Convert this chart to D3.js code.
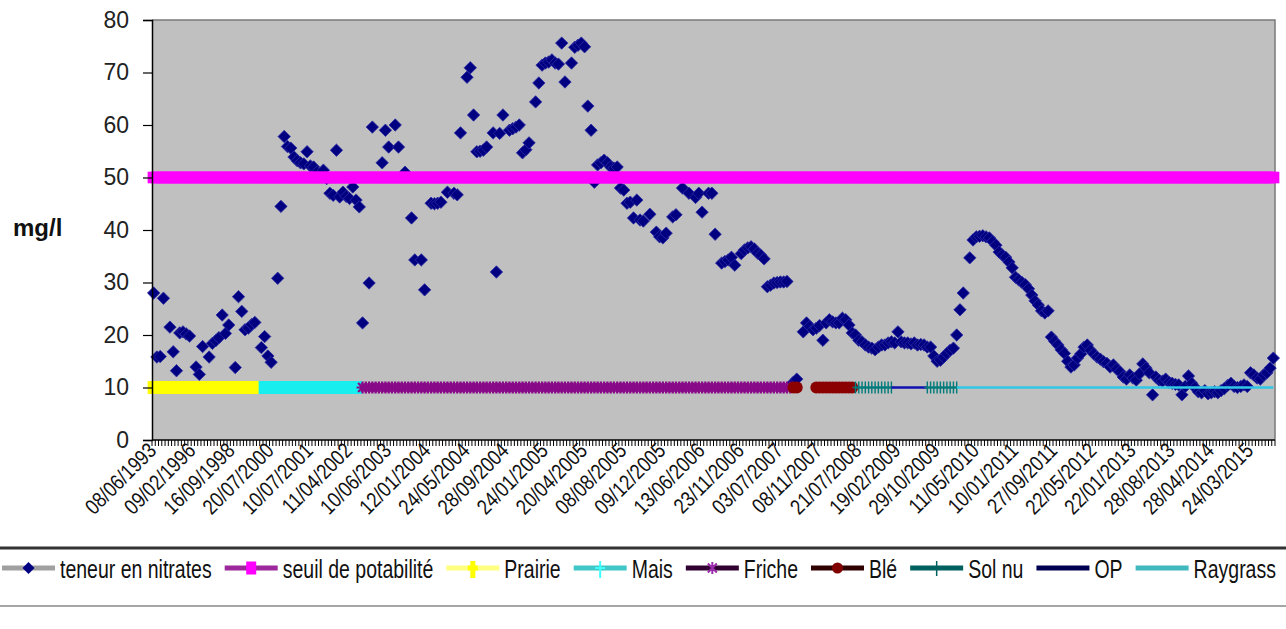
<!DOCTYPE html>
<html>
<head>
<meta charset="utf-8">
<script src="https://cdn.jsdelivr.net/npm/d3@7"></script>
<style>
  body { margin: 0; background: #ffffff; }
  svg { display: block; }
</style>
</head>
<body>
<svg id="chart" width="1286" height="629"></svg>
<script>
// ---- Data ---------------------------------------------------------------

// Sampling-date labels shown on the category axis (one every 12 samples)
const tickLabels = [
  "08/06/1993", "09/02/1996", "16/09/1998", "20/07/2000", "10/07/2001",
  "11/04/2002", "10/06/2003", "12/01/2004", "24/05/2004", "28/09/2004",
  "24/01/2005", "20/04/2005", "08/08/2005", "09/12/2005", "13/06/2006",
  "23/11/2006", "03/07/2007", "08/11/2007", "21/07/2008", "19/02/2009",
  "29/10/2009", "11/05/2010", "10/01/2011", "27/09/2011", "22/05/2012",
  "22/01/2013", "28/08/2013", "28/04/2014", "24/03/2015"
];
const labelStep = 12;

// Nitrate content (mg/l), one value per sampling date (null = no measurement)
const nitrate = [
  28.0, 15.8, 15.9, 27.0, null, 21.5, 16.8, 13.2, 20.4, 20.6,
  20.2, 19.8, null, 13.9, 12.5, 17.8, null, 15.8, 18.4, 18.9,
  19.5, 23.8, 20.3, 21.9, null, 13.8, 27.3, 24.5, 21.0, 21.3,
  22.0, 22.4, null, 17.6, 19.7, 16.0, 14.8, null, 30.8, 44.5,
  57.8, 55.9, 55.6, 53.9, 53.2, 52.8, 52.6, 54.9, 52.2, 52.0,
  51.0, 50.2, 51.4, 49.8, 47.0, 46.6, 55.2, 46.3, 47.2, 46.4,
  46.0, 48.2, 45.7, 44.4, 22.3, null, 29.9, 59.6, null, null,
  52.8, 59.0, 55.8, null, 60.0, 55.8, null, 51.0, null, 42.3,
  34.3, null, 34.3, 28.6, null, 45.1, 45.0, 45.1, 45.3, null,
  47.2, null, 47.0, 46.7, 58.5, null, 69.1, 70.9, 61.9, 54.9,
  55.0, 55.2, 55.8, null, 58.5, 32.0, 58.4, 61.9, null, 59.0,
  59.3, 59.6, 60.0, 54.7, 55.3, 56.6, null, 64.4, 68.0, 71.4,
  71.8, 72.0, 72.4, 71.8, 71.6, 75.6, 68.2, null, 71.8, 74.8,
  75.2, 75.6, 74.9, 63.6, 59.0, 49.1, 52.4, 52.8, 53.3, 52.8,
  52.0, 51.8, 52.0, 48.0, 47.6, 45.1, 45.3, 42.3, 45.7, 41.9,
  41.7, null, 43.0, null, 39.6, 38.7, 38.5, 39.4, null, 42.5,
  42.9, null, 48.0, null, 47.0, null, 46.2, 47.0, 43.4, null,
  47.0, 47.0, 39.2, null, 33.7, 34.0, 34.3, 34.8, 33.3, null,
  35.5, 36.2, 36.6, 36.8, 36.4, 35.6, 35.2, 34.5, 29.2, 29.5,
  29.9, 30.0, 30.1, 30.1, 30.2, null, 11.0, 11.6, null, 20.6,
  22.3, 21.6, 21.0, 21.3, 21.8, 19.0, 22.3, 22.9, 22.5, 22.3,
  22.3, 23.2, 22.9, 21.9, 20.4, 20.0, 19.0, 18.7, 18.1, 17.7,
  17.5, 17.2, 17.7, 18.1, 18.1, 18.5, 18.7, 18.5, 20.6, 18.7,
  18.5, 18.5, 18.3, 18.5, 18.1, 18.2, 18.1, 17.7, 17.7, 16.0,
  15.0, 15.2, 15.8, 16.5, 17.1, 17.5, 20.0, 24.8, 28.0, null,
  34.7, 38.1, 38.7, 38.8, 38.9, 38.7, 38.5, 37.8, 37.1, 35.8,
  35.2, 34.8, 33.9, 32.8, 31.0, 30.5, 30.0, 29.6, 28.8, 27.6,
  26.5, 25.7, 24.6, 24.2, 24.6, 19.6, 18.8, 18.1, 17.2, 16.5,
  15.0, 13.9, 14.3, 15.6, 16.4, 17.7, 18.1, 17.1, 16.4, 15.8,
  15.4, 14.9, 14.6, 13.9, 14.3, 13.5, 13.0, 12.0, 11.6, 12.4,
  11.8, 11.4, 12.6, 14.5, 13.7, 12.8, 8.6, 12.0, 11.4, 11.2,
  11.6, 11.0, 10.8, 10.6, 10.5, 8.6, 10.2, 12.2, 10.8, 10.0,
  9.2, 9.0, 9.4, 8.8, 9.0, 9.2, 9.0, 9.4, 9.8, 10.4,
  10.8, 10.2, 10.0, 10.2, 10.5, 10.2, 12.8, 12.4, 11.8, 11.6,
  12.4, 12.8, 13.7, 15.6
];

// Drinking-water threshold (mg/l)
const seuil = 50;

// Land use over the plot, drawn as a marker line at a fixed level
const cropLevel = 10;
const cropFrom  = [0,  34, 64,  196, 203, 215, 226, 237, 246];
const cropTo    = [33, 62, 195, 197, 214, 226, 237, 246, 343];
const cropOf    = ["Prairie", "Mais", "Friche", "Blé", "Blé", "Sol nu", "OP", "Sol nu", "Raygrass"];

const legendLabels = ["teneur en nitrates", "seuil de potabilité", "Prairie", "Mais",
                      "Friche", "Blé", "Sol nu", "OP", "Raygrass"];

// ---- Layout -------------------------------------------------------------
const svg = d3.select("#chart");
const plot = { left: 152, right: 1275, top: 20, bottom: 440 };
const N = nitrate.length;

const x = d3.scaleBand()
  .domain(d3.range(N))
  .range([plot.left, plot.right])
  .paddingInner(0).paddingOuter(0);
const cx = i => x(i) + x.bandwidth() / 2;

const y = d3.scaleLinear().domain([0, 80]).range([plot.bottom, plot.top]);

const FONT = "'Liberation Sans', Arial, sans-serif";

// plot background
svg.append("rect")
  .attr("x", plot.left).attr("y", plot.top)
  .attr("width", plot.right - plot.left).attr("height", plot.bottom - plot.top)
  .attr("fill", "#c0c0c0");
// top and right frame
svg.append("path")
  .attr("d", `M${plot.left},${plot.top}H${plot.right}V${plot.bottom}`)
  .attr("fill", "none").attr("stroke", "#7a7a7a").attr("stroke-width", 1.5);

// ---- Series -------------------------------------------------------------
const diamondPath = r => `M0,${-r}L${r},0L0,${r}L${-r},0Z`;

// nitrate measurements
svg.append("g").selectAll("path")
  .data(nitrate.map((v, i) => ({ i, v })).filter(d => d.v != null))
  .join("path")
  .attr("d", diamondPath(6.2))
  .attr("transform", d => `translate(${cx(d.i)},${y(d.v)})`)
  .attr("fill", "#000080")
  .attr("stroke", "#2c2ca6").attr("stroke-width", 0.8);

// threshold: magenta line with square markers at every date
const gSeuil = svg.append("g");
gSeuil.append("line")
  .attr("x1", cx(0)).attr("x2", cx(N - 1))
  .attr("y1", y(seuil)).attr("y2", y(seuil))
  .attr("stroke", "#ff00ff").attr("stroke-width", 4);
gSeuil.selectAll("rect").data(d3.range(N)).join("rect")
  .attr("x", i => cx(i) - 6).attr("y", y(seuil) - 5.8)
  .attr("width", 12).attr("height", 11.6)
  .attr("fill", "#ff00ff");

// land-use periods
const cropStyle = {
  "Prairie":  { line: "#ffff00", width: 4, marker: "rect", color: "#ffff00" },
  "Mais":     { line: "#00ffff", width: 4, marker: "rect", color: "#19eeee" },
  "Friche":   { line: "#800080", width: 4, marker: "asterisk", color: "#880a88" },
  "Blé":      { line: "#800000", width: 4, marker: "circle", color: "#8b0000" },
  "Sol nu":   { line: "#008080", width: 2, marker: "plus", color: "#007a7a" },
  "OP":       { line: "#1010b0", width: 2.5, marker: null },
  "Raygrass": { line: "#30c8e6", width: 2.5, marker: null }
};

const lineGen = d3.line().x(d => cx(d)).y(() => y(cropLevel));

cropFrom.forEach((from, k) => {
  const name = cropOf[k];
  const st = cropStyle[name];
  const idx = d3.range(from, cropTo[k] + 1);
  const g = svg.append("g").attr("class", "crop");
  g.append("path").datum(idx)
    .attr("d", lineGen)
    .attr("fill", "none").attr("stroke", st.line).attr("stroke-width", st.width);
  const yy = y(cropLevel);
  if (st.marker === "rect") {
    g.selectAll("rect").data(idx).join("rect")
      .attr("x", i => cx(i) - 6).attr("y", yy - 6.5)
      .attr("width", 12).attr("height", 13).attr("fill", st.color);
  } else if (st.marker === "circle") {
    g.selectAll("circle").data(idx).join("circle")
      .attr("cx", i => cx(i)).attr("cy", yy).attr("r", 6)
      .attr("fill", st.color);
  } else if (st.marker === "asterisk") {
    g.selectAll("path.m").data(idx).join("path").attr("class", "m")
      .attr("d", "M-4.5,-4.5L4.5,4.5M-4.5,4.5L4.5,-4.5M0,-6L0,6M-6,0L6,0")
      .attr("transform", i => `translate(${cx(i)},${yy})`)
      .attr("stroke", st.color).attr("stroke-width", 2.2).attr("fill", "none");
  } else if (st.marker === "plus") {
    g.selectAll("path.m").data(idx).join("path").attr("class", "m")
      .attr("d", "M0,-6L0,6M-3,0L3,0")
      .attr("transform", i => `translate(${cx(i)},${yy})`)
      .attr("stroke", st.color).attr("stroke-width", 1.4).attr("fill", "none");
  }
});

// ---- Axes ---------------------------------------------------------------
// y axis
const yAxis = svg.append("g")
  .attr("transform", `translate(${plot.left},0)`)
  .call(d3.axisLeft(y).tickValues(d3.range(0, 81, 10)).tickSize(9).tickPadding(14));
yAxis.select(".domain").attr("stroke", "#000").attr("stroke-width", 1.5);
yAxis.selectAll(".tick line").attr("stroke", "#000").attr("stroke-width", 1.2);
yAxis.selectAll(".tick text")
  .attr("font-family", FONT).attr("font-size", 23).attr("fill", "#222");

svg.append("text")
  .attr("x", 13).attr("y", 236)
  .attr("font-family", FONT).attr("font-size", 24).attr("font-weight", "bold")
  .attr("fill", "#111")
  .text("mg/l");

// x axis: line, one small tick per date, label every labelStep dates
svg.append("line")
  .attr("x1", plot.left).attr("x2", plot.right)
  .attr("y1", plot.bottom).attr("y2", plot.bottom)
  .attr("stroke", "#000").attr("stroke-width", 1.5);
svg.append("g").selectAll("line").data(d3.range(N + 1)).join("line")
  .attr("x1", i => plot.left + i * x.step()).attr("x2", i => plot.left + i * x.step())
  .attr("y1", plot.bottom).attr("y2", plot.bottom + 6)
  .attr("stroke", "#000").attr("stroke-width", 1);

svg.append("g").selectAll("text").data(tickLabels).join("text")
  .attr("transform", (d, k) => `translate(${cx(k * labelStep) + 4},${plot.bottom + 12}) rotate(-45) scale(1,1.2)`)
  .attr("text-anchor", "end")
  .attr("font-family", FONT).attr("font-size", 18).attr("fill", "#111")
  .text(d => d);

// ---- Legend -------------------------------------------------------------
const legY = 568;
svg.append("line").attr("x1", 0).attr("x2", 1286).attr("y1", 548).attr("y2", 548)
  .attr("stroke", "#333").attr("stroke-width", 3);
svg.append("line").attr("x1", 0).attr("x2", 1286).attr("y1", 606).attr("y2", 606)
  .attr("stroke", "#888").attr("stroke-width", 1.5);

const legendSym = [
  { line: "#a0a0a0", draw: g => g.append("path").attr("d", diamondPath(6)).attr("fill", "#000080") },
  { line: "#9c289c", draw: g => g.append("rect").attr("x", -5).attr("y", -6.5).attr("width", 10).attr("height", 13).attr("fill", "#ff00ff") },
  { line: "#ffff80", draw: g => g.append("path").attr("d", "M0,-7L0,10M-5,0L5,0").attr("stroke", "#ffff00").attr("stroke-width", 5) },
  { line: "#40c8c8", draw: g => g.append("path").attr("d", "M0,-7L0,10M-5,0L5,0").attr("stroke", "#40ffff").attr("stroke-width", 2) },
  { line: "#300030", draw: g => g.append("path").attr("d", "M-4.5,-4.5L4.5,4.5M-4.5,4.5L4.5,-4.5M0,-6L0,6").attr("stroke", "#9a2aaa").attr("stroke-width", 2) },
  { line: "#300000", draw: g => g.append("circle").attr("r", 5.5).attr("fill", "#800000") },
  { line: "#006060", draw: g => g.append("path").attr("d", "M0,-7L0,8").attr("stroke", "#006060").attr("stroke-width", 1.5) },
  { line: "#000050", draw: () => {} },
  { line: "#40b8c0", draw: () => {} }
];

let lx = 2;
const legend = svg.append("g");
legendLabels.forEach((label, k) => {
  const g = legend.append("g");
  g.append("line").attr("x1", lx).attr("x2", lx + 53)
    .attr("y1", legY).attr("y2", legY)
    .attr("stroke", legendSym[k].line).attr("stroke-width", 5);
  const m = g.append("g").attr("transform", `translate(${lx + 26.5},${legY})`);
  legendSym[k].draw(m);
  const t = g.append("text")
    .attr("transform", `translate(${lx + 58},${legY + 10}) scale(1,1.35)`)
    .attr("font-family", FONT).attr("font-size", 19.5).attr("fill", "#111")
    .text(label);
  lx += 58 + t.node().getComputedTextLength() + 13;
});
</script>
</body>
</html>
